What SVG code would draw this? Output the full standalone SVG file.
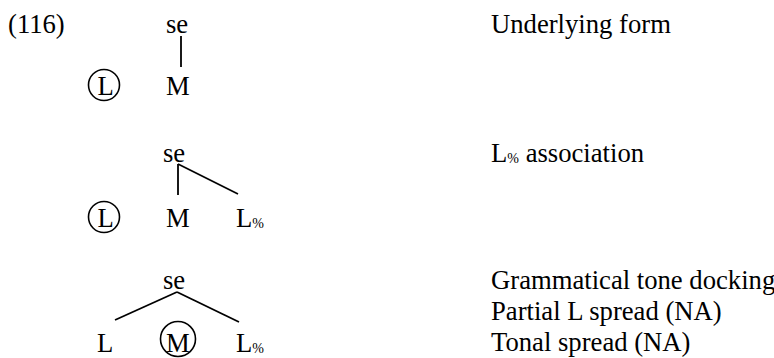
<svg xmlns="http://www.w3.org/2000/svg" width="774" height="358" viewBox="0 0 774 358">
  <style>
    text { font-family: "Liberation Serif", "Times New Roman", serif; font-size: 26.67px; fill: #000; }
    .pct { font-size: 14px; }
    .ring { fill: none; stroke: #000; stroke-width: 1.6; }
    .assoc line { stroke: #000; stroke-width: 1.8; stroke-linecap: butt; }
  </style>
  <rect width="774" height="358" fill="#fff"/>

  <!-- example number -->
  <text id="ex-num" x="8" y="33">(116)</text>

  <!-- derivation step 1: underlying form -->
  <g id="s1-se"><text x="166" y="33">se</text></g>
  <g id="s1-L"><circle class="ring" cx="104" cy="85" r="15.5"/><text x="97.5" y="95">L</text></g>
  <g id="s1-M"><text x="166" y="95">M</text></g>

  <!-- derivation step 2: boundary tone association -->
  <g id="s2-se"><text x="163" y="162">se</text></g>
  <g id="s2-L"><circle class="ring" cx="104" cy="217" r="15.5"/><text x="97.5" y="227">L</text></g>
  <g id="s2-M"><text x="166" y="227">M</text></g>
  <g id="s2-Lpct"><text x="236" y="227">L<tspan class="pct" dy="1">%</tspan></text></g>

  <!-- derivation step 3: docking and spreading -->
  <g id="s3-se"><text x="163" y="289">se</text></g>
  <g id="s3-L"><text x="97" y="352">L</text></g>
  <g id="s3-M"><circle class="ring" cx="178" cy="339" r="17.5"/><text x="166" y="352">M</text></g>
  <g id="s3-Lpct"><text x="236" y="352">L<tspan class="pct" dy="1">%</tspan></text></g>

  <!-- association lines -->
  <g id="connectors" class="assoc">
    <line x1="181" y1="36" x2="181" y2="67"/>
    <line x1="178" y1="164" x2="178" y2="195"/>
    <line x1="178" y1="164" x2="238" y2="194"/>
    <line x1="177" y1="292" x2="115" y2="320"/>
    <line x1="177" y1="292" x2="239" y2="322"/>
  </g>

  <!-- step descriptions -->
  <g id="labels">
    <text x="491" y="33">Underlying form</text>
    <text x="491" y="162">L<tspan class="pct" dy="1">%</tspan><tspan dy="-1"> association</tspan></text>
    <text x="491" y="289">Grammatical tone docking</text>
    <text x="491" y="320">Partial L spread (NA)</text>
    <text x="491" y="351">Tonal spread (NA)</text>
  </g>
</svg>
